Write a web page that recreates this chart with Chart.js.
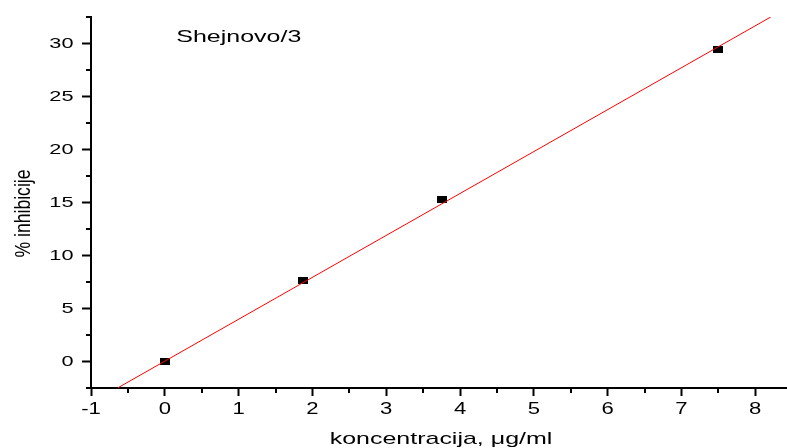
<!DOCTYPE html>
<html><head><meta charset="utf-8">
<style>html,body{margin:0;padding:0;background:#fff;overflow:hidden}#wrap{width:787px;height:448px;position:relative}</style>
<script src="https://cdn.jsdelivr.net/npm/chart.js@4/dist/chart.umd.min.js"></script>
</head><body><div id="wrap"><canvas id="c" width="787" height="448"></canvas></div>
<script>
// data
const concX = [0, 1.875, 3.75, 7.5];
const inhibY = [0, 7.6, 15.3, 29.4];
const fitX = [-0.64, 8.21];
const fitY = [-2.5, 32.5];
const xTicks = [-1, 0, 1, 2, 3, 4, 5, 6, 7, 8];
const yTicks = [0, 5, 10, 15, 20, 25, 30];
const xMinor = [-0.5, 0.5, 1.5, 2.5, 3.5, 4.5, 5.5, 6.5, 7.5];
const yMinor = [-2.5, 2.5, 7.5, 12.5, 17.5, 22.5, 27.5, 32.5];
const label = 'Shejnovo/3';
const labelPos = [0.155, 30.15];
const xTitle = 'koncentracija, \u03BCg/ml';
const yTitle = '% inhibicije';

const FONT = "'Liberation Sans', Arial, sans-serif";

const mk = document.createElement('canvas');
mk.width = 10; mk.height = 7;
const mctx = mk.getContext('2d'); mctx.fillStyle = '#000'; mctx.fillRect(0, 0, 10, 7);

function stretchedText(ctx, text, x, y, align, sx, sy, rot) {
  ctx.save();
  ctx.translate(x, y);
  if (rot) ctx.rotate(rot);
  ctx.scale(sx, sy);
  ctx.textAlign = align;
  ctx.fillText(text, 0, 0);
  ctx.restore();
}

const extras = {
  id: 'extras',
  afterDraw(chart) {
    const ctx = chart.ctx, xs = chart.scales.x, ys = chart.scales.y;
    ctx.save();
    ctx.strokeStyle = '#000'; ctx.lineWidth = 2;
    ctx.beginPath();
    xMinor.forEach(v => { const p = Math.round(xs.getPixelForValue(v)); ctx.moveTo(p, ys.bottom); ctx.lineTo(p, ys.bottom + 5); });
    yMinor.forEach(v => { const p = Math.round(ys.getPixelForValue(v)); ctx.moveTo(xs.left, p); ctx.lineTo(xs.left - 5, p); });
    ctx.stroke();
    ctx.fillStyle = '#000';
    ctx.textBaseline = 'alphabetic';
    // tick labels
    ctx.font = '16px ' + FONT;
    xTicks.forEach(v => stretchedText(ctx, String(v), xs.getPixelForValue(v), ys.bottom + 25.5, 'center', 1.38, 1));
    ctx.font = '15.5px ' + FONT;
    ctx.textBaseline = 'middle';
    yTicks.forEach(v => stretchedText(ctx, String(v), xs.left - 17.5, ys.getPixelForValue(v) + 0.5, 'right', 1.4, 1));
    // annotation and titles
    ctx.textBaseline = 'alphabetic';
    ctx.font = '17px ' + FONT;
    stretchedText(ctx, label, xs.getPixelForValue(labelPos[0]), ys.getPixelForValue(labelPos[1]), 'left', 1.47, 1);
    stretchedText(ctx, xTitle, (xs.left + xs.right) / 2 + 2, ys.bottom + 56, 'center', 1.47, 1);
    ctx.font = '17.6px ' + FONT;
    ctx.textBaseline = 'middle';
    stretchedText(ctx, yTitle, 24, (ys.top + ys.bottom) / 2 + 11, 'center', 1, 1.22, -Math.PI / 2);
    ctx.restore();
  }
};

new Chart(document.getElementById('c'), {
  type: 'scatter',
  data: { datasets: [
    { type: 'line', data: fitX.map((x, i) => ({x, y: fitY[i]})), borderColor: '#ff0000', borderWidth: 1, pointRadius: 0, order: 0, fill: false },
    { data: concX.map((x, i) => ({x, y: inhibY[i]})), pointStyle: mk, pointRadius: 5, backgroundColor: '#000', order: 1 }
  ]},
  options: {
    responsive: false, animation: false, devicePixelRatio: 1,
    layout: { autoPadding: false, padding: { top: 17, left: 0, right: 0, bottom: 0 } },
    plugins: { legend: { display: false }, tooltip: { enabled: false } },
    scales: {
      x: {
        type: 'linear', min: -1, max: 8.43,
        afterBuildTicks(s) { s.ticks = xTicks.map(v => ({value: v})); },
        afterFit(s) { s.height = 60; s.paddingLeft = 0; s.paddingRight = 0; },
        border: { display: true, color: '#000', width: 2 },
        grid: { display: true, drawOnChartArea: false, drawTicks: true, tickLength: 8, tickColor: '#000', tickWidth: 2 },
        ticks: { display: false },
        title: { display: false }
      },
      y: {
        type: 'linear', min: -2.5, max: 32.5,
        afterBuildTicks(s) { s.ticks = yTicks.map(v => ({value: v})); },
        afterFit(s) { s.width = 91; s.paddingTop = 0; s.paddingBottom = 0; },
        border: { display: true, color: '#000', width: 2 },
        grid: { display: true, drawOnChartArea: false, drawTicks: true, tickLength: 9, tickColor: '#000', tickWidth: 2 },
        ticks: { display: false },
        title: { display: false }
      }
    }
  },
  plugins: [extras]
});
</script></body></html>
